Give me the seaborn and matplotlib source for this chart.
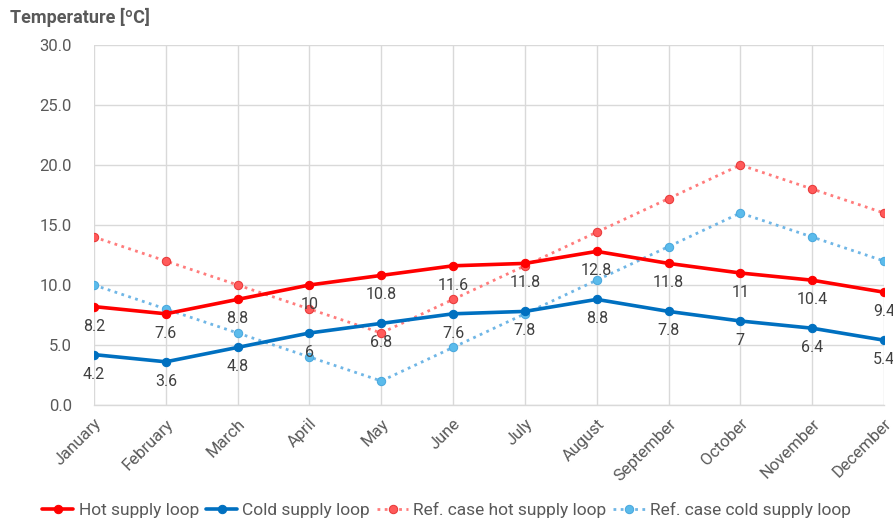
import matplotlib
matplotlib.use("Agg")
import matplotlib.pyplot as plt
import seaborn as sns
import pandas as pd

months = ["January", "February", "March", "April", "May", "June", "July",
          "August", "September", "October", "November", "December"]
hot_supply = [8.2, 7.6, 8.8, 10, 10.8, 11.6, 11.8, 12.8, 11.8, 11, 10.4, 9.4]
cold_supply = [4.2, 3.6, 4.8, 6, 6.8, 7.6, 7.8, 8.8, 7.8, 7, 6.4, 5.4]
ref_hot = [14, 12, 10, 8, 6, 8.8, 11.6, 14.4, 17.2, 20, 18, 16]
ref_cold = [10, 8, 6, 4, 2, 4.8, 7.6, 10.4, 13.2, 16, 14, 12]
y_ticks = [0, 5, 10, 15, 20, 25, 30]

sns.set_theme(style="white")
plt.rcParams["font.family"] = ["Roboto", "DejaVu Sans"]

text_color = "#595959"
grid_color = "#d9d9d9"

fig = plt.figure(figsize=(8.93, 5.23), dpi=100)
ax = fig.add_axes([94 / 893, 1 - 405 / 523, (884 - 94) / 893, (405 - 45) / 523])

x = list(range(len(months)))
series = [
    ("Hot supply loop", hot_supply, dict(color="#FF0000", linestyle="-", linewidth=2.6,
                                          marker="o", markersize=6, markerfacecolor="#FF0000",
                                          markeredgecolor="#FF0000")),
    ("Cold supply loop", cold_supply, dict(color="#0070C0", linestyle="-", linewidth=2.6,
                                            marker="o", markersize=6, markerfacecolor="#0070C0",
                                            markeredgecolor="#0070C0")),
    ("Ref. case hot supply loop", ref_hot, dict(color="#FF7C7C", linestyle=(0, (1, 1.6)), linewidth=2.0,
                                                 marker="o", markersize=6, markerfacecolor="#FF5A5A",
                                                 markeredgecolor="#E83A3A")),
    ("Ref. case cold supply loop", ref_cold, dict(color="#6FB6E6", linestyle=(0, (1, 1.6)), linewidth=2.0,
                                                   marker="o", markersize=6, markerfacecolor="#5BBBEB",
                                                   markeredgecolor="#4AA8DE")),
]

# Reference cases drawn first so the main loops sit on top
for label, vals, style in series[2:] + series[:2]:
    df = pd.DataFrame({"month": x, "value": vals})
    sns.lineplot(data=df, x="month", y="value", ax=ax, label=label, zorder=3, **style)

# Value labels below the main loop markers
for vals in (hot_supply, cold_supply):
    for xi, v in zip(x, vals):
        ax.annotate(f"{v:g}", (xi, v), xytext=(0, -14), textcoords="offset points",
                    ha="center", va="center", fontsize=11.5, color="#404040", zorder=4)

ax.set_xlim(0, len(months) - 1)
ax.set_ylim(0, 30)
ax.set_yticks(y_ticks)
ax.set_yticklabels([f"{t:.1f}" for t in y_ticks])
ax.set_xticks(x)
ax.set_xticklabels(months, rotation=45, ha="right", rotation_mode="anchor")
ax.tick_params(axis="both", labelsize=12, colors=text_color, length=0, pad=8)
ax.tick_params(axis="y", pad=16)
ax.grid(True, color=grid_color, linewidth=1.0)
ax.set_axisbelow(True)
for side in ("top", "right", "left"):
    ax.spines[side].set_visible(False)
ax.spines["bottom"].set_color(grid_color)
ax.spines["bottom"].set_linewidth(1.0)
ax.set_xlabel("")
ax.set_ylabel("")

fig.text(10 / 893, 1 - 17 / 523, "Temperature [ºC]", fontsize=13, fontweight="bold",
         color=text_color, ha="left", va="center")

handles, labels = ax.get_legend_handles_labels()
order = [labels.index(s[0]) for s in series]
ax.legend([handles[i] for i in order], [labels[i] for i in order],
          loc="center", bbox_to_anchor=(0.5, 1 - 510 / 523), bbox_transform=fig.transFigure,
          ncol=4, frameon=False, fontsize=12.5, handlelength=1.8, handletextpad=0.3,
          columnspacing=0.4, labelcolor=text_color)

fig.savefig("out.png", dpi=100)
